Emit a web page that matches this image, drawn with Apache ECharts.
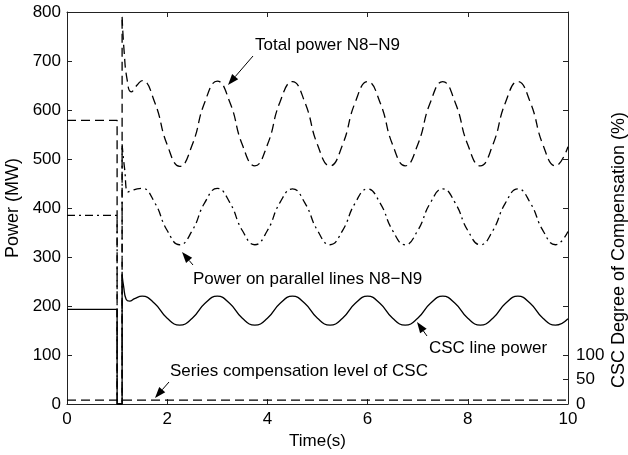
<!DOCTYPE html>
<html><head><meta charset="utf-8">
<script src="https://cdn.jsdelivr.net/npm/echarts@6/dist/echarts.min.js"></script>
<style>html,body{margin:0;padding:0;background:#fff;overflow:hidden}#c{width:628px;height:455px}</style>
</head><body><div id="c"></div>
<script>
// ---- data ----
const xTicks = [0, 2, 4, 6, 8, 10];
const leftTicks = [0, 100, 200, 300, 400, 500, 600, 700, 800];
const rightTickLabels = [0, 50, 100];

// pre-fault and fault segments (time, value)
const totalPreT = [0, 1.0, 1.0, 1.1, 1.1];
const totalPreV = [579, 579, 0, 0, 790];
const parPreT = [0, 1.0, 1.0, 1.1, 1.1];
const parPreV = [385, 385, 0, 0, 530];
const cscPreT = [0, 1.0, 1.0, 1.1, 1.1];
const cscPreV = [193, 193, 0, 0, 263];

// post-fault transient
const totalPostT = [1.1, 1.14, 1.2, 1.28, 1.4];
const totalPostV = [790, 720, 662, 637, 651];
const parPostT = [1.1, 1.15, 1.22, 1.3, 1.4];
const parPostV = [530, 480, 433, 436, 439];
const cscPostT = [1.1, 1.13, 1.18, 1.25, 1.35];
const cscPostV = [263, 240, 214, 210, 215];

// oscillation (time, value)
const oscT = [1.5, 1.75, 2.0, 2.25, 2.5, 2.75, 3.0, 3.25, 3.5, 3.75, 4.0, 4.25, 4.5, 4.75, 5.0, 5.25, 5.5, 5.75, 6.0, 6.25, 6.5, 6.75, 7.0, 7.25, 7.5, 7.75, 8.0, 8.25, 8.5, 8.75, 9.0, 9.25, 9.5, 9.75, 10.0];
const totalOsc = [660, 616, 529, 485, 529, 616, 659, 616, 529, 486, 529, 616, 658, 615, 529, 486, 529, 615, 658, 615, 529, 486, 529, 615, 658, 615, 529, 486, 529, 615, 658, 615, 529, 486, 525];
const parOsc = [440, 411, 354, 325, 354, 411, 440, 411, 354, 325, 354, 411, 439, 410, 354, 325, 354, 410, 439, 410, 354, 325, 354, 410, 439, 410, 354, 325, 354, 410, 439, 410, 354, 325, 352];
const cscOsc = [220, 205, 175, 161, 175, 205, 220, 205, 175, 161, 175, 205, 220, 205, 175, 161, 175, 205, 220, 205, 175, 161, 175, 205, 220, 205, 175, 161, 175, 205, 220, 205, 175, 161, 174];

// series compensation level (%)
const compT = [0, 10];
const compV = [8, 8];

function zip(t, v) { return t.map((x, i) => [x, v[i]]); }

const FONT = 'Liberation Sans, Arial, Helvetica, sans-serif';
const DASH = [9, 5];
const DASHDOT = [8, 4, 2, 4];
const lw = 1.3;

const chart = echarts.init(document.getElementById('c'), null, {renderer: 'canvas'});

function lineSeries(data, type, smooth, yIdx) {
  return {
    type: 'line', data: data, showSymbol: false, symbol: 'none', smooth: smooth,
    yAxisIndex: yIdx || 0, xAxisIndex: 0, animation: false, silent: true,
    lineStyle: {color: '#000', width: lw, type: type}
  };
}

const axisLineStyle = {show: true, onZero: false, lineStyle: {color: '#222', width: 1}};
const tickStyle = {show: true, inside: true, length: 5, lineStyle: {color: '#222'}};
const labelStyle = {color: '#000', fontSize: 17, fontFamily: FONT};

chart.setOption({
  animation: false,
  backgroundColor: '#fff',
  grid: {left: 67, right: 60, top: 12, bottom: 51, containLabel: false, outerBoundsMode: 'none'},
  xAxis: [
    {type: 'value', min: 0, max: 10, interval: 2, position: 'bottom',
     axisLine: axisLineStyle, axisTick: tickStyle,
     axisLabel: Object.assign({margin: 7, customValues: xTicks}, labelStyle), splitLine: {show: false},
     name: 'Time(s)', nameLocation: 'middle', nameGap: 26, nameTextStyle: {color: '#000', fontSize: 17, fontFamily: FONT}},
    {type: 'value', min: 0, max: 10, interval: 2, position: 'top',
     axisLine: axisLineStyle, axisTick: tickStyle,
     axisLabel: {show: false}, splitLine: {show: false}}
  ],
  yAxis: [
    {type: 'value', min: 0, max: 800, interval: 100, position: 'left',
     axisLine: axisLineStyle, axisTick: tickStyle,
     axisLabel: Object.assign({margin: 6, customValues: leftTicks}, labelStyle), splitLine: {show: false},
     name: 'Power (MW)', nameLocation: 'middle', nameGap: 36, nameRotate: 90,
     nameTextStyle: {color: '#000', fontSize: 18, fontFamily: FONT}},
    {type: 'value', min: 0, max: 800, interval: 50, position: 'right',
     axisLine: axisLineStyle,
     axisTick: Object.assign({customValues: [0, 50, 100, 200, 300, 400, 500, 600, 700]}, tickStyle),
     axisLabel: Object.assign({margin: 8, customValues: rightTickLabels}, labelStyle), splitLine: {show: false}}
  ],
  series: [
    lineSeries(zip(totalPreT, totalPreV), DASH, false),
    lineSeries(zip(totalPostT, totalPostV).concat(zip(oscT, totalOsc)), DASH, 0.5),
    lineSeries(zip(parPreT, parPreV), DASHDOT, false),
    lineSeries(zip(parPostT, parPostV).concat(zip(oscT, parOsc)), DASHDOT, 0.5),
    lineSeries(zip(cscPreT, cscPreV), 'solid', false),
    lineSeries(zip(cscPostT, cscPostV).concat(zip(oscT, cscOsc)), 'solid', 0.5),
    lineSeries(zip(compT, compV), DASH, false, 1)
  ]
});

// ---- annotations (text + arrows) ----
function arrow(x1, y1, x2, y2) {
  const ang = Math.atan2(y2 - y1, x2 - x1);
  const L = 11, W = 4;
  const bx = x2 - L * Math.cos(ang), by = y2 - L * Math.sin(ang);
  const px = -Math.sin(ang) * W, py = Math.cos(ang) * W;
  return [
    {type: 'line', shape: {x1: x1, y1: y1, x2: bx, y2: by}, style: {stroke: '#000', lineWidth: 1}},
    {type: 'polygon', shape: {points: [[x2, y2], [bx + px, by + py], [bx - px, by - py]]}, style: {fill: '#000'}}
  ];
}
function txt(x, y, s, rot, size) {
  return {type: 'text', x: x, y: y, rotation: rot || 0,
          style: {text: s, fill: '#000', fontSize: size || 17, fontFamily: FONT, verticalAlign: 'middle', align: 'left'}};
}
const g = [];
g.push(txt(255, 45, 'Total power N8\u2212N9'));
g.push(...arrow(253, 56, 228, 85));
g.push(txt(193, 279, 'Power on parallel lines N8\u2212N9'));
g.push(...arrow(193, 265, 182, 252));
g.push(txt(429, 348, 'CSC line power'));
g.push(...arrow(427, 336, 417, 322));
g.push(txt(170, 371, 'Series compensation level of CSC'));
g.push(...arrow(169, 382, 155, 398));
// right axis title
g.push(txt(619, 388, 'CSC Degree of Compensation (%)', Math.PI / 2, 18));
chart.setOption({graphic: g});
</script>
</body></html>
